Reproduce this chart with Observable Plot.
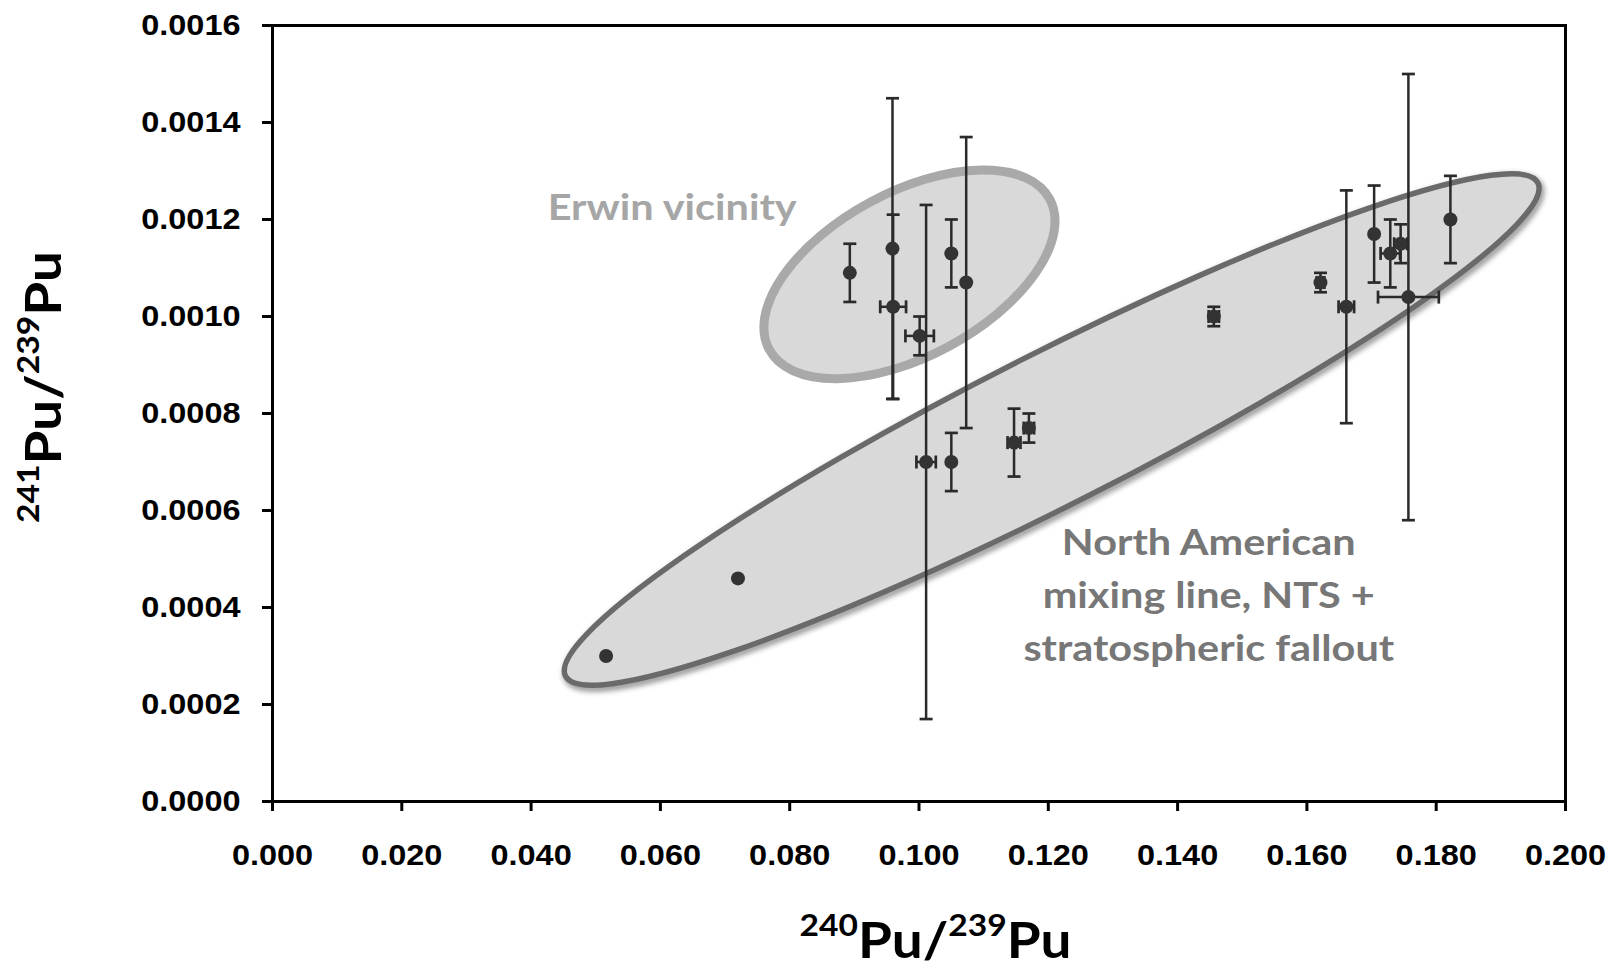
<!DOCTYPE html>
<html><head><meta charset="utf-8">
<script src="https://cdn.jsdelivr.net/npm/d3@7"></script>
<script src="https://cdn.jsdelivr.net/npm/@observablehq/plot@0.6"></script>
<style>
html,body{margin:0;padding:0;background:#fff;}
g[aria-label="x-axis tick label"] text, g[aria-label="y-axis tick label"] text {
  font-family: "Liberation Sans", Arial, sans-serif; font-weight: bold; font-size: 29px; fill: #000;
}
</style></head>
<body><div id="chart"></div>
<script>
// ---- data: 240Pu/239Pu (x), 241Pu/239Pu (y) with 1-sigma errors ----
const ratio240 = [0.0893, 0.0959, 0.0960, 0.1001, 0.1050, 0.1073, 0.1011, 0.1050, 0.1456, 0.1147,
                  0.1170, 0.1621, 0.1661, 0.1704, 0.1729, 0.1745, 0.1757, 0.1822, 0.0516, 0.0720];
const ratio241 = [0.00109, 0.00114, 0.00102, 0.00096, 0.00113, 0.00107, 0.00070, 0.00070, 0.00100, 0.00074,
                  0.00077, 0.00107, 0.00102, 0.00117, 0.00113, 0.00115, 0.00104, 0.00120, 0.00030, 0.00046];
const err241   = [0.00006, 0.00031, 0.00019, 0.00004, 0.00007, 0.00030, 0.00053, 0.00006, 0.00002, 0.00007,
                  0.00003, 0.00002, 0.00024, 0.00010, 0.00007, 0.00004, 0.00046, 0.00009, 0, 0];
const err240   = [0, 0, 0.0020, 0.0022, 0, 0, 0.0015, 0, 0.0008, 0.0010,
                  0.0008, 0.0006, 0.0012, 0, 0.0015, 0.0010, 0.0047, 0, 0, 0];

const xTicks = [0, 0.02, 0.04, 0.06, 0.08, 0.10, 0.12, 0.14, 0.16, 0.18, 0.20];
const yTicks = [0, 0.0002, 0.0004, 0.0006, 0.0008, 0.0010, 0.0012, 0.0014, 0.0016];

// annotation regions (data coordinates: centre, end of major axis, minor/major ratio)
const erwinRegion = {center: [0.0986, 0.001086], tip: [0.1203, 0.001241], ratio: 0.516};
const naRegion    = {center: [0.1206, 0.000766], tip: [0.1958, 0.0012745], ratio: 0.139};
const erwinLabel = ["Erwin vicinity"];
const erwinLabelPos = [0.0619, 0.001197];
const naLabel = ["North American", "mixing line, NTS +", "stratospheric fallout"];
const naLabelPos = [0.1449, 0.000507];

const STRETCH = 1.12;
const pts = ratio240.map((x, i) => ({x, y: ratio241[i], ex: err240[i], ey: err241[i]}));
const withEy = pts.filter(d => d.ey > 0);
const withEx = pts.filter(d => d.ex > 0);

const capH = {draw(ctx, size) { const r = Math.sqrt(size / Math.PI); ctx.moveTo(-r, 0); ctx.lineTo(r, 0); }};
const capV = {draw(ctx, size) { const r = Math.sqrt(size / Math.PI); ctx.moveTo(0, -r); ctx.lineTo(0, r); }};

function ellipseMark(e, st) {
  return (index, scales) => {
    const cx = scales.x(e.center[0]), cy = scales.y(e.center[1]);
    const tx = scales.x(e.tip[0]), ty = scales.y(e.tip[1]);
    const a = Math.hypot(tx - cx, ty - cy), b = a * e.ratio;
    const ang = Math.atan2(ty - cy, tx - cx) * 180 / Math.PI;
    const g = d3.create("svg:g");
    if (st.shadow) {
      g.append("defs").append("filter").attr("id", st.shadow)
        .attr("x", "-10%").attr("y", "-10%").attr("width", "120%").attr("height", "120%")
        .append("feGaussianBlur").attr("stdDeviation", 2.5);
      g.append("ellipse").attr("rx", a).attr("ry", b)
        .attr("transform", `translate(${cx + 2},${cy + 3}) rotate(${ang})`)
        .attr("fill", "none").attr("stroke", "#777").attr("stroke-width", st.strokeWidth + 2)
        .attr("opacity", 0.7).attr("filter", `url(#${st.shadow})`);
    }
    g.append("ellipse").attr("rx", a).attr("ry", b)
      .attr("transform", `translate(${cx},${cy}) rotate(${ang})`)
      .attr("fill", st.fill).attr("stroke", st.stroke).attr("stroke-width", st.strokeWidth);
    return g.node();
  };
}

function labelMark(lines, pos, st) {
  return (index, scales) => {
    const x = scales.x(pos[0]), y = scales.y(pos[1]);
    const t = d3.create("svg:text")
      .attr("transform", `translate(${x},${y}) scale(${STRETCH},1)`)
      .attr("text-anchor", "middle").attr("font-family", "Lato, 'Open Sans', sans-serif")
      .attr("font-weight", "bold").attr("font-size", st.size).attr("fill", st.color);
    lines.forEach((l, i) => t.append("tspan").attr("x", 0).attr("dy", i ? st.lineHeight : 0).text(l));
    return t.node();
  };
}

function isotopeTitle(parts, place) {
  return (index, scales, values, dim) => {
    const p = place(dim);
    const t = d3.create("svg:text")
      .attr("transform", `translate(${p.x},${p.y}) rotate(${p.rotate}) scale(${STRETCH},1)`)
      .attr("text-anchor", "middle").attr("font-family", "Lato, 'Open Sans', sans-serif")
      .attr("font-weight", "bold").attr("fill", "#000");
    let raised = false;
    for (const [txt, sup] of parts) {
      const s = t.append("tspan").text(txt).attr("font-size", sup ? 30 : 49);
      if (sup && !raised) { s.attr("dy", -22); raised = true; }
      else if (!sup && raised) { s.attr("dy", 22); raised = false; }
    }
    return t.node();
  };
}

const xTitle = [["240", true], ["Pu", false], ["/", false], ["239", true], ["Pu", false]];
const yTitle = [["241", true], ["Pu", false], ["/", false], ["239", true], ["Pu", false]];

const barColor = "#2a2a2a";
const svg = Plot.plot({
  width: 1613, height: 971,
  marginLeft: 272, marginRight: 48, marginTop: 25, marginBottom: 170,
  x: {domain: [0, 0.2]},
  y: {domain: [0, 0.0016]},
  style: {background: "#fff"},
  marks: [
    ellipseMark(erwinRegion, {fill: "#d9d9d9", stroke: "#a9a9a9", strokeWidth: 9}),
    ellipseMark(naRegion, {fill: "#d9d9d9", stroke: "#6a6a6a", strokeWidth: 5.5, shadow: "naShadow"}),
    labelMark(erwinLabel, erwinLabelPos, {size: 37, color: "#a6a6a6", lineHeight: 0}),
    labelMark(naLabel, naLabelPos, {size: 37, color: "#777", lineHeight: 53}),
    Plot.ruleX(withEy, {x: "x", y1: d => d.y - d.ey, y2: d => d.y + d.ey, stroke: barColor, strokeWidth: 2.5}),
    Plot.dot(withEy, {x: "x", y: d => d.y + d.ey, symbol: capH, r: 6.5, stroke: barColor, strokeWidth: 2.7, fill: "none"}),
    Plot.dot(withEy, {x: "x", y: d => d.y - d.ey, symbol: capH, r: 6.5, stroke: barColor, strokeWidth: 2.7, fill: "none"}),
    Plot.ruleY(withEx, {y: "y", x1: d => d.x - d.ex, x2: d => d.x + d.ex, stroke: barColor, strokeWidth: 2.5}),
    Plot.dot(withEx, {x: d => d.x + d.ex, y: "y", symbol: capV, r: 6.5, stroke: barColor, strokeWidth: 2.7, fill: "none"}),
    Plot.dot(withEx, {x: d => d.x - d.ex, y: "y", symbol: capV, r: 6.5, stroke: barColor, strokeWidth: 2.7, fill: "none"}),
    Plot.dot(pts, {x: "x", y: "y", r: 7, fill: "#333", stroke: "none"}),
    Plot.frame({stroke: "#000", strokeWidth: 3}),
    Plot.axisX({ticks: xTicks, tickSize: 10, tickPadding: 33, tickFormat: d3.format(".3f"), strokeWidth: 3, stroke: "#000", label: null, fontSize: 29}),
    Plot.axisY({ticks: yTicks, tickSize: 10, tickPadding: 22, tickFormat: d3.format(".4f"), strokeWidth: 3, stroke: "#000", label: null, fontSize: 29}),
    isotopeTitle(xTitle, dim => ({x: dim.marginLeft + (dim.width - dim.marginLeft - dim.marginRight) / 2 + 17, y: 958, rotate: 0})),
    isotopeTitle(yTitle, dim => ({x: 61, y: 387, rotate: -90}))
  ]
});

d3.select(svg).selectAll('g[aria-label="x-axis tick label"] text, g[aria-label="y-axis tick label"] text')
  .attr("transform", function () { return (this.getAttribute("transform") || "") + ` scale(${STRETCH},1)`; });

document.getElementById("chart").appendChild(svg);
</script>
</body></html>
